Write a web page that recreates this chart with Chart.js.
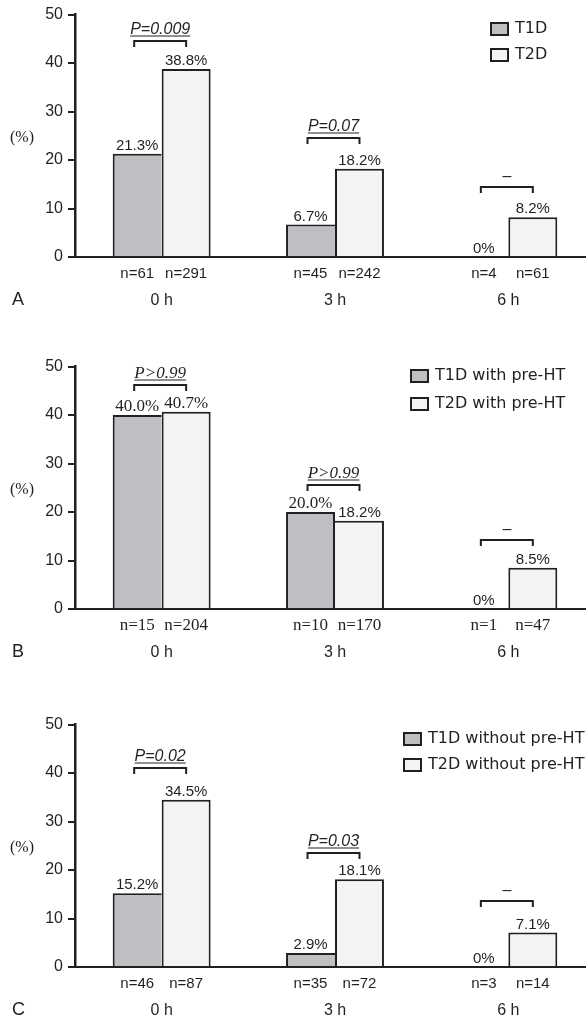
<!DOCTYPE html>
<html>
<head>
<meta charset="utf-8">
<title>Hyperthermia rates, T1D vs T2D</title>
<script src="https://cdn.jsdelivr.net/npm/chart.js@4.4.1/dist/chart.umd.min.js"></script>
<style>
    html, body { margin: 0; padding: 0; background: #fff; width: 586px; height: 1019px; overflow: hidden; }
    .panel { position: absolute; left: 0; width: 600px; height: 340px; }
</style>
</head>
<body>
<div class="panel" style="top:0px"><canvas id="chartA" width="600" height="340"></canvas></div>
<div class="panel" style="top:352px"><canvas id="chartB" width="600" height="340"></canvas></div>
<div class="panel" style="top:710px"><canvas id="chartC" width="600" height="340"></canvas></div>
<script>
// Shared categories and ticks
const categories = ['0 h', '3 h', '6 h'];
const yTicks = [0, 10, 20, 30, 40, 50];

// Panel A - all patients
const t1dA = [21.3, 6.7, 0];
const t2dA = [38.8, 18.2, 8.2];
const nT1dA = [61, 45, 4];
const nT2dA = [291, 242, 61];
const pA = ['P=0.009', 'P=0.07', '–'];
const bracketA = [44.5, 24.6, 14.5];
const legendA = ['T1D', 'T2D'];

// Panel B - with pre-HT
const t1dB = [40.0, 20.0, 0];
const t2dB = [40.7, 18.2, 8.5];
const nT1dB = [15, 10, 1];
const nT2dB = [204, 170, 47];
const pB = ['P>0.99', 'P>0.99', '–'];
const bracketB = [46.3, 25.5, 14.2];
const legendB = ['T1D with pre-HT', 'T2D with pre-HT'];

// Panel C - without pre-HT
const t1dC = [15.2, 2.9, 0];
const t2dC = [34.5, 18.1, 7.1];
const nT1dC = [46, 35, 3];
const nT2dC = [87, 72, 14];
const pC = ['P=0.02', 'P=0.03', '–'];
const bracketC = [41.0, 23.6, 13.7];
const legendC = ['T1D without pre-HT', 'T2D without pre-HT'];

const ink = '#231f20';
const grayFill = '#bebfc3';
const lightFill = '#f3f3f3';
const SANS = '"Liberation Sans", Arial, sans-serif';
const SERIF = '"Liberation Serif", "Times New Roman", serif';
const LEGEND_FONT = '"DejaVu Sans", sans-serif';

function fmtPct(v) {
    return v === 0 ? '0%' : v.toFixed(1) + '%';
}

// draws labels, n counts, brackets, legend etc. using the chart's own scales
function extrasFor(panel) {
    return {
        id: 'extras',
        afterDatasetsDraw(chart) {
            const ctx = chart.ctx;
            const area = chart.chartArea;
            const xs = chart.scales.x, ys = chart.scales.y;
            const metas = [chart.getDatasetMeta(0).data, chart.getDatasetMeta(1).data];
            const values = [panel.t1d, panel.t2d];
            const counts = [panel.n1, panel.n2];

            ctx.save();
            ctx.fillStyle = ink;
            ctx.strokeStyle = ink;

            // value labels above bars
            ctx.textAlign = 'center';
            ctx.textBaseline = 'alphabetic';
            for (let d = 0; d < 2; d++) {
                metas[d].forEach((bar, j) => {
                    const serif = panel.valueSerif && panel.valueSerif[d][j];
                    ctx.font = serif ? '17px ' + SERIF : '15px ' + SANS;
                    ctx.fillText(fmtPct(values[d][j]), bar.x, bar.y - 4);
                });
            }

            // n labels under bars
            ctx.textBaseline = 'middle';
            ctx.font = panel.nSerif ? '17px ' + SERIF : '15px ' + SANS;
            for (let d = 0; d < 2; d++) {
                metas[d].forEach((bar, j) => {
                    ctx.fillText('n=' + counts[d][j], bar.x, area.bottom + 17);
                });
            }

            // category labels
            ctx.font = '16px ' + SANS;
            categories.forEach((c, j) => {
                ctx.fillText(c, xs.getPixelForValue(j), area.bottom + 44);
            });

            // panel letter
            ctx.textAlign = 'left';
            ctx.font = '18px ' + SANS;
            ctx.fillText(panel.letter, 12, area.bottom + 43);

            // y axis unit
            ctx.textAlign = 'center';
            ctx.font = '16px ' + SERIF;
            ctx.fillText('(%)', 22, (area.top + area.bottom) / 2 + 2);

            // significance brackets
            ctx.lineWidth = 2;
            panel.p.forEach((label, j) => {
                const yb = Math.round(ys.getPixelForValue(panel.bracket[j])) + 0.0;
                const x1 = metas[0][j].x - 3;
                const x2 = metas[1][j].x;
                ctx.beginPath();
                ctx.moveTo(x1, yb + 6);
                ctx.lineTo(x1, yb);
                ctx.lineTo(x2, yb);
                ctx.lineTo(x2, yb + 6);
                ctx.stroke();

                const cx = (x1 + x2) / 2;
                if (label === '–') {
                    ctx.font = '16px ' + SANS;
                    ctx.textBaseline = 'middle';
                    ctx.fillText(label, cx, yb - 10);
                } else {
                    ctx.font = panel.pSerif ? 'italic 17px ' + SERIF : 'italic 16px ' + SANS;
                    ctx.textBaseline = 'alphabetic';
                    ctx.fillText(label, cx, yb - 7);
                    const w = ctx.measureText(label).width;
                    ctx.lineWidth = 1;
                    ctx.beginPath();
                    ctx.moveTo(cx - w / 2, yb - 5);
                    ctx.lineTo(cx + w / 2, yb - 5);
                    ctx.stroke();
                    ctx.lineWidth = 2;
                }
            });

            // legend
            ctx.textAlign = 'left';
            ctx.textBaseline = 'middle';
            ctx.font = '16px ' + LEGEND_FONT;
            chart.data.datasets.forEach((ds, k) => {
                const bx = panel.legendX, by = panel.legendY + k * panel.legendGap;
                ctx.fillStyle = ds.backgroundColor;
                ctx.fillRect(bx, by, 19, 14);
                ctx.lineWidth = 2;
                ctx.strokeRect(bx + 1, by + 1, 17, 12);
                ctx.fillStyle = ink;
                ctx.fillText(ds.label, bx + 25, by + 7);
            });

            ctx.restore();
        }
    };
}

function makePanel(canvasId, panel) {
    const ctx = document.getElementById(canvasId).getContext('2d');
    return new Chart(ctx, {
        type: 'bar',
        data: {
            labels: categories,
            datasets: [{
                label: panel.legend[0],
                data: panel.t1d,
                backgroundColor: grayFill,
                borderColor: ink,
                borderWidth: c => ({
                    top: 2, left: 2, bottom: 0,
                    right: panel.t2d[c.dataIndex] >= panel.t1d[c.dataIndex] ? 0 : 2
                }),
                borderSkipped: false,
                inflateAmount: 0
            }, {
                label: panel.legend[1],
                data: panel.t2d,
                backgroundColor: lightFill,
                borderColor: ink,
                borderWidth: c => ({
                    top: 2, right: 2, bottom: 0,
                    left: panel.t1d[c.dataIndex] > panel.t2d[c.dataIndex] ? 0 : 2
                }),
                borderSkipped: false,
                inflateAmount: 0
            }]
        },
        options: {
            responsive: false,
            animation: false,
            events: [],
            layout: { padding: { top: 13, left: 0, right: 5, bottom: 83 } },
            datasets: {
                bar: { categoryPercentage: 0.565, barPercentage: 1 }
            },
            plugins: {
                legend: { display: false },
                tooltip: { enabled: false }
            },
            scales: {
                x: {
                    grid: { display: false },
                    ticks: { display: false },
                    border: { display: true, color: ink, width: 2 },
                    afterFit: s => { s.height = 0; }
                },
                y: {
                    min: 0,
                    max: 50,
                    afterBuildTicks: s => { s.ticks = yTicks.map(v => ({ value: v })); },
                    ticks: {
                        color: ink,
                        padding: 5,
                        font: { family: SANS, size: 16 }
                    },
                    grid: {
                        drawOnChartArea: false,
                        drawTicks: true,
                        tickLength: 7,
                        color: ink,
                        lineWidth: 2
                    },
                    border: { display: true, color: ink, width: 2.5 },
                    afterFit: s => { s.width = 75; }
                }
            }
        },
        plugins: [extrasFor(panel)]
    });
}

document.addEventListener('DOMContentLoaded', function() {
    makePanel('chartA', {
        t1d: t1dA, t2d: t2dA, n1: nT1dA, n2: nT2dA, p: pA, bracket: bracketA,
        legend: legendA, letter: 'A',
        legendX: 490, legendY: 22, legendGap: 26
    });

    makePanel('chartB', {
        t1d: t1dB, t2d: t2dB, n1: nT1dB, n2: nT2dB, p: pB, bracket: bracketB,
        legend: legendB, letter: 'B',
        legendX: 410, legendY: 17, legendGap: 28,
        nSerif: true, pSerif: true,
        valueSerif: [[true, true, false], [true, false, false]]
    });

    makePanel('chartC', {
        t1d: t1dC, t2d: t2dC, n1: nT1dC, n2: nT2dC, p: pC, bracket: bracketC,
        legend: legendC, letter: 'C',
        legendX: 403, legendY: 22, legendGap: 26
    });
});
</script>
</body>
</html>
